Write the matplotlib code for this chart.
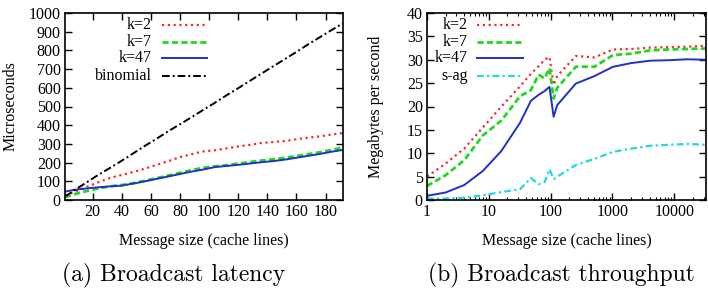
import numpy as np
import matplotlib
matplotlib.use("Agg")
import matplotlib.pyplot as plt
from matplotlib.ticker import FixedLocator, FixedFormatter, LogLocator, NullFormatter

plt.rcParams['font.family'] = ['Liberation Serif', 'DejaVu Serif']

# (a) latency, message size in cache lines
lat_x = [1, 8, 16, 24, 32, 40, 48, 56, 64, 72, 80, 88, 96, 104, 112, 120,
         128, 136, 144, 152, 160, 168, 176, 184, 192]
lat_k2 = [25, 45, 70, 95, 118, 134, 150, 168, 188, 208, 229, 245, 260, 266,
          276, 286, 295, 305, 310, 315, 325, 333, 340, 350, 358]
lat_k7 = [15, 32, 48, 62, 73, 80, 90, 103, 117, 131, 145, 160, 172, 180,
          186, 195, 203, 211, 218, 226, 235, 245, 255, 268, 280]
lat_k47 = [45, 55, 62, 68, 73, 77, 88, 100, 113, 126, 139, 152, 163, 176,
           182, 188, 195, 202, 208, 216, 226, 236, 246, 258, 268]
lat_binomial = [18, 55, 95, 135, 172, 210, 250, 290, 328, 368, 405, 443,
                482, 520, 560, 598, 637, 676, 715, 753, 792, 832, 870, 908, 945]

# (b) throughput
tp_x = [1, 2, 4, 8, 16, 32, 48, 64, 80, 96, 112, 128, 256, 512, 1024, 2048,
        4096, 8192, 16384, 32768]
tp_k2 = [5, 7.8, 11, 15.5, 20, 24.3, 27, 28.6, 30, 30.6, 24.6, 26.5, 30.8,
         30.5, 32.2, 32.3, 32.6, 32.7, 32.8, 33.0]
tp_k7 = [3, 5.3, 8.5, 13.8, 17, 22.2, 23.5, 26.8, 26, 28.2, 21.7, 24, 28.5,
         28.5, 31, 31.3, 32, 32.2, 32.3, 32.4]
tp_k47 = [0.9, 1.6, 3.2, 6.2, 10.5, 16.5, 21.2, 22.5, 23.3, 24.2, 17.8, 20.3,
          24.9, 26.5, 28.5, 29.3, 29.8, 29.9, 30.1, 30.0]
tp_sag = [0.3, 0.3, 0.5, 1.0, 1.7, 2.3, 4.7, 3.4, 3.8, 6.6, 4.5, 5.0, 7.5,
          8.8, 10.3, 11.0, 11.6, 11.8, 12.0, 11.8]

RED = '#ee3030'
GREEN = '#20d820'
BLUE = '#2030c8'
CYAN = '#20d8e0'
BLACK = '#000000'
FS = 11.5

fig = plt.figure(figsize=(7.08, 2.92), dpi=100)
ax1 = fig.add_axes([65 / 708, 1 - 200 / 292, 278 / 708, 187 / 292])
ax2 = fig.add_axes([427 / 708, 1 - 200 / 292, 279 / 708, 187 / 292])

styles_a = [
    ('k=2', lat_k2, dict(color=RED, lw=1.6, ls=(0, (1, 1.6)))),
    ('k=7', lat_k7, dict(color=GREEN, lw=2.0, ls=(0, (2.2, 1.2)))),
    ('k=47', lat_k47, dict(color=BLUE, lw=1.4, ls='-')),
    ('binomial', lat_binomial, dict(color=BLACK, lw=1.4, ls=(0, (4, 1.5, 1, 1.5)))),
]
styles_b = [
    ('k=2', tp_k2, dict(color=RED, lw=1.6, ls=(0, (1, 1.6)))),
    ('k=7', tp_k7, dict(color=GREEN, lw=2.0, ls=(0, (2.2, 1.2)))),
    ('k=47', tp_k47, dict(color=BLUE, lw=1.4, ls='-')),
    ('s-ag', tp_sag, dict(color=CYAN, lw=1.6, ls=(0, (3, 1.5, 1, 1.5)))),
]

leg_y = [0.935, 0.845, 0.757, 0.665]


def gnuplot_legend(ax, entries, xt, x0, x1):
    for (lab, _, st), y in zip(entries, leg_y):
        ax.text(xt, y, lab, transform=ax.transAxes, ha='right', va='center',
                fontsize=FS)
        ax.plot([x0, x1], [y, y], transform=ax.transAxes, clip_on=False, **st)


for lab, ys, st in styles_a:
    ax1.plot(lat_x, ys, **st)
for lab, ys, st in styles_b:
    ax2.plot(tp_x, ys, **st)

gnuplot_legend(ax1, styles_a, 0.313, 0.349, 0.511)
gnuplot_legend(ax2, styles_b, 0.146, 0.179, 0.343)

ax1.set_xlim(1, 192)
ax1.set_ylim(0, 1000)
ax1.xaxis.set_major_locator(FixedLocator(range(20, 181, 20)))
ax1.yaxis.set_major_locator(FixedLocator(range(0, 1001, 100)))
ax1.set_ylabel('Microseconds', fontsize=FS)
ax1.set_xlabel('Message size (cache lines)', fontsize=FS)
ax1.yaxis.set_label_coords(-0.168, 0.5)
ax1.xaxis.set_label_coords(0.5, -0.175)

ax2.set_xscale('log')
ax2.set_xlim(1, 32768)
ax2.set_ylim(0, 40)
ax2.xaxis.set_major_locator(FixedLocator([1, 10, 100, 1000, 10000]))
ax2.xaxis.set_major_formatter(FixedFormatter(['1', '10', '100', '1000', '10000']))
ax2.xaxis.set_minor_locator(LogLocator(base=10, subs=np.arange(2, 10)))
ax2.xaxis.set_minor_formatter(NullFormatter())
ax2.yaxis.set_major_locator(FixedLocator(range(0, 41, 5)))
ax2.set_ylabel('Megabytes per second', fontsize=FS)
ax2.set_xlabel('Message size (cache lines)', fontsize=FS)
ax2.yaxis.set_label_coords(-0.155, 0.5)
ax2.xaxis.set_label_coords(0.5, -0.175)

for ax in (ax1, ax2):
    for s in ax.spines.values():
        s.set_linewidth(1.2)
    ax.tick_params(which='major', direction='in', length=5, width=1.0,
                   top=True, right=True, labelsize=FS, pad=3)
    ax.tick_params(which='minor', direction='in', length=2.5, width=0.8,
                   top=True, right=True)

fig.text(174 / 708, 1 - 275 / 292, '(a) Broadcast latency', family='cmr10',
         fontsize=17, ha='center', va='center')
fig.text(561 / 708, 1 - 275 / 292, '(b) Broadcast throughput', family='cmr10',
         fontsize=17, ha='center', va='center')

fig.savefig('out.png', dpi=100)
